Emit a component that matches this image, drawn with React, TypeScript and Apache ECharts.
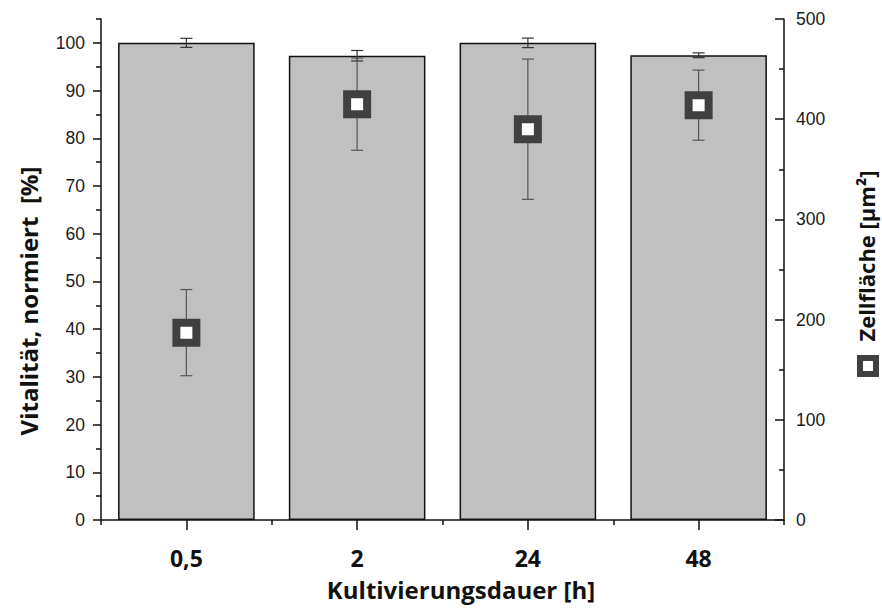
import React, { useEffect, useRef } from "react";
import * as echarts from "echarts";

const categories = ["0,5", "2", "24", "48"];
const vitality = [100, 97.3, 100, 97.4];
const vitalityErr = [0.95, 1.1, 1, 0.5];
const cellArea = [187, 415, 390, 414];
const cellAreaErr = [43, 46, 70, 35];
const leftMajorTicks = [0, 10, 20, 30, 40, 50, 60, 70, 80, 90, 100];
const leftMinorTicks = [5, 15, 25, 35, 45, 55, 65, 75, 85, 95, 105];

const tickFont = "'Liberation Sans', Arial, sans-serif";
const titleFont = "'Open Sans', sans-serif";

function errorSeries(values: number[], errs: number[], yAxisIndex: number, color: string, z: number) {
  return {
    type: "custom",
    xAxisIndex: 0,
    yAxisIndex,
    z,
    encode: { x: 0, y: [1, 2] },
    data: values.map((v, i) => [i, v - errs[i], v + errs[i]]),
    renderItem: (params: any, api: any) => {
      const x = api.value(0);
      const pLo = api.coord([x, api.value(1)]);
      const pHi = api.coord([x, api.value(2)]);
      const hw = 6;
      const style = { stroke: color, lineWidth: 1.2 };
      return {
        type: "group",
        children: [
          { type: "line", shape: { x1: pHi[0], y1: pHi[1], x2: pLo[0], y2: pLo[1] }, style },
          { type: "line", shape: { x1: pHi[0] - hw, y1: pHi[1], x2: pHi[0] + hw, y2: pHi[1] }, style },
          { type: "line", shape: { x1: pLo[0] - hw, y1: pLo[1], x2: pLo[0] + hw, y2: pLo[1] }, style },
        ],
      };
    },
  };
}

export default function App() {
  const ref = useRef<HTMLDivElement>(null);
  useEffect(() => {
    document.body.style.margin = "0";
    if (!ref.current) return;
    const chart = echarts.init(ref.current, null, { renderer: "svg" });
    const axisLineStyle = { color: "#111", width: 1.5 };
    chart.setOption({
      animation: false,
      backgroundColor: "#fff",
      grid: { left: 101, right: 98, top: 19, bottom: 88 },
      xAxis: [
        {
          type: "category",
          data: categories,
          position: "bottom",
          axisLine: { show: true, lineStyle: axisLineStyle },
          axisTick: { show: true, alignWithLabel: true, length: 10, lineStyle: { color: "#111", width: 1.5 } },
          axisLabel: {
            margin: 26,
            fontFamily: titleFont,
            fontWeight: "bold",
            fontSize: 23,
            color: "#111",
          },
          splitLine: { show: false },
        },
        {
          type: "category",
          data: categories,
          position: "bottom",
          axisLine: { show: false },
          axisTick: { show: true, length: 5, lineStyle: { color: "#111", width: 1.5 } },
          axisLabel: { show: false },
          splitLine: { show: false },
        },
      ],
      yAxis: [
        {
          type: "value",
          min: 0,
          max: 105,
          interval: 5,
          position: "left",
          axisLine: { show: true, lineStyle: axisLineStyle },
          axisTick: { show: true, length: 8, customValues: leftMajorTicks, lineStyle: { color: "#111", width: 1.5 } },
          axisLabel: {
            customValues: leftMajorTicks,
            margin: 16,
            fontFamily: tickFont,
            fontSize: 17.5,
            color: "#1a1a1a",
          },
          splitLine: { show: false },
        },
        {
          type: "value",
          min: 0,
          max: 500,
          interval: 100,
          position: "right",
          axisLine: { show: true, lineStyle: axisLineStyle },
          axisTick: { show: true, inside: true, length: 9, lineStyle: { color: "#111", width: 1.5 } },
          minorTick: { show: true, splitNumber: 2, length: 5, lineStyle: { color: "#111", width: 1.5 } },
          axisLabel: {
            margin: 12,
            fontFamily: tickFont,
            fontSize: 17.5,
            color: "#1a1a1a",
          },
          splitLine: { show: false },
        },
        {
          type: "value",
          min: 0,
          max: 105,
          interval: 5,
          position: "left",
          axisLine: { show: false },
          axisTick: { show: true, length: 5, customValues: leftMinorTicks, lineStyle: { color: "#111", width: 1.5 } },
          axisLabel: { show: false },
          splitLine: { show: false },
        },
      ],
      series: [
        {
          type: "bar",
          xAxisIndex: 0,
          yAxisIndex: 0,
          data: vitality,
          barWidth: "80%",
          z: 2,
          itemStyle: { color: "#c0c0c0", borderColor: "#111", borderWidth: 1.5 },
        },
        errorSeries(vitality, vitalityErr, 0, "#333", 3),
        errorSeries(cellArea, cellAreaErr, 1, "#555", 4),
        {
          type: "scatter",
          xAxisIndex: 0,
          yAxisIndex: 1,
          data: cellArea,
          symbol: "rect",
          symbolSize: 20,
          z: 5,
          itemStyle: { color: "#fff", borderColor: "#404040", borderWidth: 8, opacity: 1 },
        },
      ],
      graphic: [
        {
          type: "text",
          x: 28,
          y: 301,
          rotation: Math.PI / 2,
          style: {
            text: "Vitalität, normiert  [%]",
            font: `bold 24px ${titleFont}`,
            fill: "#111",
            align: "center",
            verticalAlign: "middle",
          },
        },
        {
          type: "text",
          x: 461,
          y: 589,
          style: {
            text: "Kultivierungsdauer [h]",
            font: `bold 24px ${titleFont}`,
            fill: "#111",
            align: "center",
            verticalAlign: "middle",
          },
        },
        {
          type: "text",
          x: 866,
          y: 256,
          rotation: Math.PI / 2,
          style: {
            text: "Zellfläche [µm²]",
            font: `bold 22px ${titleFont}`,
            fill: "#111",
            align: "center",
            verticalAlign: "middle",
          },
        },
        {
          type: "rect",
          shape: { x: 860, y: 358, width: 16, height: 16 },
          style: { fill: "#fff", stroke: "#404040", lineWidth: 6 },
        },
      ],
    });
    return () => chart.dispose();
  }, []);
  return <div ref={ref} style={{ width: 882, height: 608 }} />;
}
